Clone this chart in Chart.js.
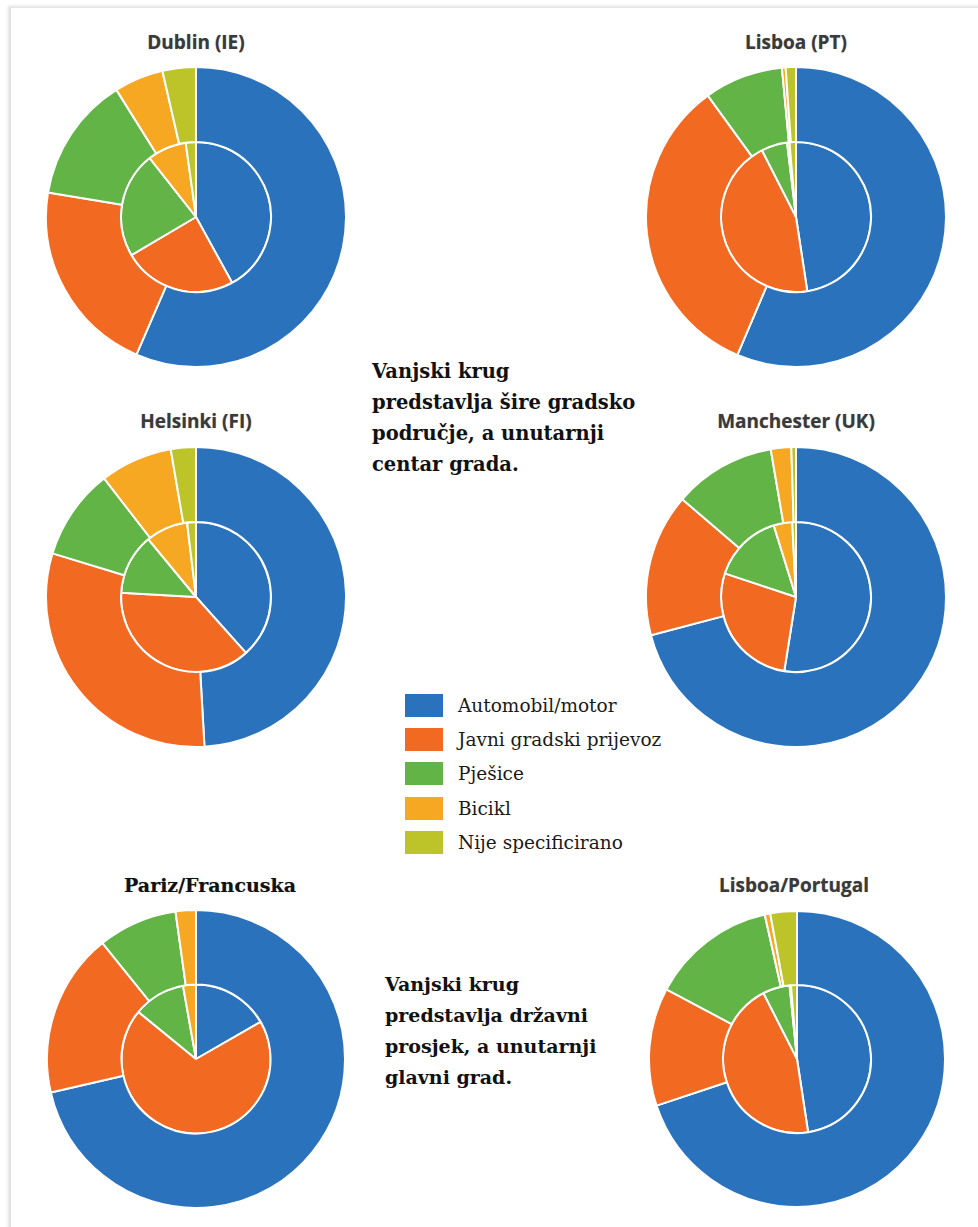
<!DOCTYPE html>
<html lang="hr">
<head>
<meta charset="utf-8">
<title>Način putovanja – gradovi</title>
<script src="https://cdn.jsdelivr.net/npm/chart.js@4.4.1/dist/chart.umd.min.js"></script>
<style>
  body {
    margin: 0;
    width: 978px;
    height: 1227px;
    position: relative;
    overflow: hidden;
    background: #fff;
  }
  .frame {
    position: absolute;
    left: 9px;
    top: 7px;
    width: 1000px;
    height: 1300px;
    border-left: 2px solid #e2e2e2;
    border-top: 1px solid #e6e6e6;
    box-shadow: -1px -1px 3px rgba(0, 0, 0, 0.12);
  }
  .pie {
    position: absolute;
  }
  .city {
    position: absolute;
    transform: translate(-50%, -50%);
    white-space: nowrap;
    font: bold 19px 'Open Sans', sans-serif;
    color: #3a3a3a;
    text-shadow: 0 0 1px rgba(0, 0, 0, 0.35);
  }
  .city.serif {
    font: bold 19px 'DejaVu Serif', serif;
    color: #111;
  }
  .note {
    position: absolute;
    font-family: 'DejaVu Serif', serif;
    font-weight: bold;
    line-height: 31px;
    color: #111;
    white-space: nowrap;
  }
  #legend {
    position: absolute;
    left: 405px;
    top: 688px;
  }
  .legend-row {
    display: flex;
    align-items: center;
    height: 34.3px;
    font: 18.5px 'DejaVu Serif', serif;
    color: #1a1a1a;
    white-space: nowrap;
  }
  .legend-box {
    width: 38px;
    height: 23px;
    margin-right: 15px;
  }
</style>
</head>
<body>
<div class="frame"></div>

<div class="note" style="left:372px; top:356px; font-size:19.5px;">Vanjski krug<br>predstavlja šire gradsko<br>područje, a unutarnji<br>centar grada.</div>
<div class="note" style="left:385px; top:969px; font-size:19px;">Vanjski krug<br>predstavlja državni<br>prosjek, a unutarnji<br>glavni grad.</div>

<div id="legend"></div>

<script>
'use strict';

// ***************** DATA ***************** //

let categories = ['Automobil/motor', 'Javni gradski prijevoz', 'Pješice', 'Bicikl', 'Nije specificirano'];
let sliceColors = ['#2a72bb', '#f26922', '#62b446', '#f7a823', '#bcc42a'];

let cityNames = ['Dublin (IE)', 'Lisboa (PT)', 'Helsinki (FI)', 'Manchester (UK)', 'Pariz/Francuska', 'Lisboa/Portugal'];

// outer ring = wider area / national average, inner pie = city centre / capital (%)
let dublinOuter = [56.5, 21.1, 13.5, 5.3, 3.6];
let dublinInner = [42.0, 24.5, 22.9, 8.4, 2.2];

let lisboaOuter = [56.4, 33.6, 8.5, 0.4, 1.1];
let lisboaInner = [47.6, 44.9, 5.6, 0.5, 1.4];

let helsinkiOuter = [49.1, 30.6, 9.8, 7.8, 2.7];
let helsinkiInner = [38.4, 37.5, 13.1, 9.1, 1.9];

let manchesterOuter = [70.9, 15.4, 11.0, 2.2, 0.5];
let manchesterInner = [52.5, 27.6, 15.1, 4.0, 0.8];

let francuskaOuter = [71.4, 17.8, 8.6, 2.2, 0];
let parizInner = [16.7, 69.2, 11.3, 2.8, 0];

let portugalOuter = [69.9, 12.9, 13.7, 0.6, 2.9];
let lisboaCapitalInner = [47.6, 44.9, 5.9, 0.3, 1.3];

// ***************** LAYOUT ***************** //

// cx, cy = pie centre; tx, ty = title centre
let panels = [
  { name: cityNames[0], outer: dublinOuter, inner: dublinInner, cx: 196, cy: 217, r: 150, tx: 196, ty: 42 },
  { name: cityNames[1], outer: lisboaOuter, inner: lisboaInner, cx: 796, cy: 217, r: 150, tx: 796, ty: 42 },
  { name: cityNames[2], outer: helsinkiOuter, inner: helsinkiInner, cx: 196, cy: 597, r: 150, tx: 196, ty: 421 },
  { name: cityNames[3], outer: manchesterOuter, inner: manchesterInner, cx: 796, cy: 597, r: 150, tx: 796, ty: 421 },
  { name: cityNames[4], outer: francuskaOuter, inner: parizInner, cx: 196, cy: 1059, r: 149, tx: 210, ty: 885, serif: true },
  { name: cityNames[5], outer: portugalOuter, inner: lisboaCapitalInner, cx: 797, cy: 1059, r: 148, tx: 794, ty: 885 }
];

// ***************** RENDER ***************** //

function renderPanel(panel) {
  let size = panel.r * 2 + 2;

  let canvas = document.createElement('canvas');
  canvas.className = 'pie';
  canvas.width = size;
  canvas.height = size;
  canvas.style.left = (panel.cx - size / 2) + 'px';
  canvas.style.top = (panel.cy - size / 2) + 'px';
  document.body.appendChild(canvas);

  let title = document.createElement('div');
  title.className = panel.serif ? 'city serif' : 'city';
  title.textContent = panel.name;
  title.style.left = panel.tx + 'px';
  title.style.top = panel.ty + 'px';
  document.body.appendChild(title);

  // first dataset is drawn as the outer ring, second fills the middle
  new Chart(canvas, {
    type: 'doughnut',
    data: {
      labels: categories,
      datasets: [
        { data: panel.outer, backgroundColor: sliceColors, borderColor: '#ffffff', borderWidth: 2 },
        { data: panel.inner, backgroundColor: sliceColors, borderColor: '#ffffff', borderWidth: 2 }
      ]
    },
    options: {
      responsive: false,
      animation: false,
      cutout: 0,
      layout: { padding: 0 },
      plugins: {
        legend: { display: false },
        tooltip: { enabled: false }
      }
    }
  });
}

function renderLegend() {
  let legend = document.getElementById('legend');
  for (let i = 0; i < categories.length; i++) {
    let row = document.createElement('div');
    row.className = 'legend-row';
    let box = document.createElement('span');
    box.className = 'legend-box';
    box.style.background = sliceColors[i];
    let label = document.createElement('span');
    label.textContent = categories[i];
    row.appendChild(box);
    row.appendChild(label);
    legend.appendChild(row);
  }
}

for (let i = 0; i < panels.length; i++) {
  renderPanel(panels[i]);
}
renderLegend();
</script>
</body>
</html>
